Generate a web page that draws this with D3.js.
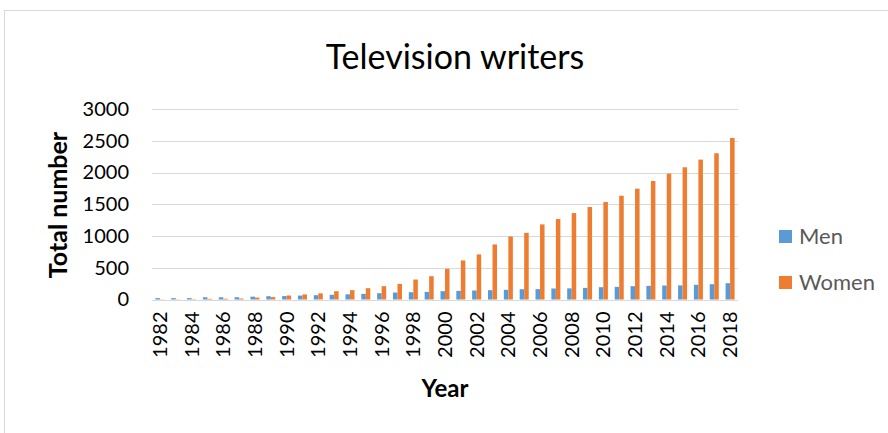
<!DOCTYPE html>
<html>
<head>
<meta charset="utf-8">
<script src="https://cdn.jsdelivr.net/npm/d3@7"></script>
<style>
  html, body { margin: 0; padding: 0; background: #fff; }
  svg { display: block; }
  text { font-family: Lato, "Open Sans", "Liberation Sans", sans-serif; }
</style>
</head>
<body>
<svg id="chart" width="888" height="433"></svg>
<script>
// Television writers per year, by gender
const years = d3.range(1982, 2019);
const men = [22, 22, 22, 35, 35, 36, 45, 52, 54, 62, 68, 74, 82, 89, 99, 110, 115, 120, 131, 136, 142, 147, 152, 162, 163, 173, 175, 183, 194, 199, 210, 215, 220, 222, 231, 241, 257];
const women = [3, 3, 5, 10, 12, 15, 30, 38, 63, 80, 97, 131, 147, 178, 210, 246, 315, 367, 483, 615, 710, 867, 993, 1050, 1183, 1267, 1361, 1456, 1535, 1634, 1745, 1866, 1982, 2082, 2203, 2303, 2544];
const yTicks = [0, 500, 1000, 1500, 2000, 2500, 3000];
const seriesNames = ["Men", "Women"];
const seriesColors = ["#5b9bd5", "#ed7d31"];

const svg = d3.select("#chart");
const FONT = "Lato, 'Open Sans', sans-serif";

// chart frame
svg.append("rect")
  .attr("x", 4.5).attr("y", 10.5)
  .attr("width", 900).attr("height", 450)
  .attr("fill", "#fff").attr("stroke", "#d9d9d9").attr("stroke-width", 1);

const plot = { left: 152, right: 738, top: 109, bottom: 299.5 };

const x = d3.scaleBand().domain(years).range([plot.left, plot.right]).paddingInner(0.43).paddingOuter(0.215);
const xSub = d3.scaleBand().domain(seriesNames).range([0, x.bandwidth()]);
const y = d3.scaleLinear().domain([0, 3000]).range([plot.bottom, plot.top]);

// gridlines
svg.append("g")
  .selectAll("line").data(yTicks).join("line")
  .attr("x1", plot.left).attr("x2", plot.right)
  .attr("y1", d => Math.round(y(d)) + 0.5).attr("y2", d => Math.round(y(d)) + 0.5)
  .attr("stroke", "#d9d9d9").attr("stroke-width", 1);

// y axis labels
const yAxis = d3.axisLeft(y).tickValues(yTicks).tickFormat(d3.format("d")).tickSize(0).tickPadding(0);
svg.append("g")
  .attr("transform", `translate(${plot.left - 23},0)`)
  .call(yAxis)
  .call(g => g.select(".domain").remove())
  .selectAll("text")
  .attr("font-size", 20).attr("fill", "#000").attr("font-family", FONT);

// bars
const series = [men, women];
const groups = svg.append("g").selectAll("g").data(seriesNames).join("g")
  .attr("fill", (d, i) => seriesColors[i]);
groups.each(function(name, si) {
  d3.select(this).selectAll("rect").data(years).join("rect")
    .attr("x", (yr) => x(yr) + xSub(name))
    .attr("width", xSub.bandwidth())
    .attr("y", (yr, i) => y(series[si][i]))
    .attr("height", (yr, i) => y(0) - y(series[si][i]));
});

// x axis labels (every other year), rotated
const xAxis = d3.axisBottom(x).tickValues(years.filter(v => v % 2 === 0)).tickFormat(d3.format("d")).tickSize(0).tickPadding(0);
svg.append("g")
  .attr("transform", `translate(0,${plot.bottom})`)
  .call(xAxis)
  .call(g => g.select(".domain").remove())
  .selectAll("text")
  .attr("font-size", 20).attr("fill", "#000").attr("font-family", FONT)
  .attr("text-anchor", "end")
  .attr("transform", "rotate(-90)")
  .attr("x", -12).attr("y", 0).attr("dy", "0.35em");

// title
svg.append("text")
  .attr("x", 455).attr("y", 69)
  .attr("text-anchor", "middle")
  .attr("font-size", 34).attr("fill", "#000")
  .text("Television writers");

// axis titles
svg.append("text")
  .attr("transform", "translate(67,205) rotate(-90)")
  .attr("text-anchor", "middle")
  .attr("font-size", 25).attr("font-weight", "bold").attr("fill", "#000")
  .text("Total number");

svg.append("text")
  .attr("x", (plot.left + plot.right) / 2).attr("y", 397)
  .attr("text-anchor", "middle")
  .attr("font-size", 24).attr("font-weight", "bold").attr("fill", "#000")
  .text("Year");

// legend
const legend = svg.append("g").selectAll("g").data(seriesNames).join("g")
  .attr("transform", (d, i) => `translate(779,${230 + i * 46})`);
legend.append("rect").attr("width", 13).attr("height", 13).attr("fill", (d, i) => seriesColors[i]);
legend.append("text").attr("x", 20).attr("y", 14)
  .attr("font-size", 22).attr("fill", "#595959").text(d => d);
</script>
</body>
</html>
